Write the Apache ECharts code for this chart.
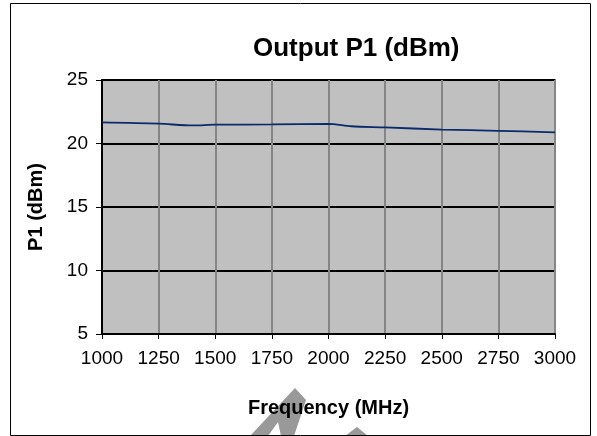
<!DOCTYPE html>
<html>
<head>
<meta charset="utf-8">
<script src="https://cdn.jsdelivr.net/npm/echarts@6/dist/echarts.min.js"></script>
<style>html,body{margin:0;padding:0;background:#fff}#c{width:597px;height:436px}</style>
</head>
<body>
<div id="c"></div>
<script>
var frequencies = [1000, 1250, 1400, 1500, 1750, 2000, 2100, 2250, 2500, 2750, 3000];
var p1Values = [21.66, 21.56, 21.42, 21.48, 21.5, 21.54, 21.36, 21.27, 21.1, 21.0, 20.88];
var xTicks = {min: 1000, max: 3000, interval: 250};
var yTicks = {min: 5, max: 25, interval: 5};
var titleText = 'Output P1 (dBm)';
var xName = 'Frequency (MHz)';
var yName = 'P1 (dBm)';

var chart = echarts.init(document.getElementById('c'));
var font = '"Liberation Sans", Arial, sans-serif';
chart.setOption({
  animation: false,
  title: {
    text: titleText, left: 248, top: 31,
    textStyle: {fontFamily: font, fontSize: 26, fontWeight: 'bold', color: '#000'}
  },
  grid: {
    left: 102, right: 42, top: 80, bottom: 102,
    show: true, backgroundColor: '#C0C0C0', borderColor: '#808080', borderWidth: 2
  },
  xAxis: {
    type: 'value', min: xTicks.min, max: xTicks.max, interval: xTicks.interval,
    name: xName, nameLocation: 'middle', nameGap: 64,
    nameTextStyle: {fontFamily: font, fontSize: 20, fontWeight: 'bold', color: '#000'},
    axisLine: {show: true, lineStyle: {color: '#000', width: 2}},
    axisTick: {show: true, length: 5, lineStyle: {color: '#000', width: 1}},
    axisLabel: {fontFamily: font, fontSize: 19, color: '#000', margin: 15,
      formatter: function (v) { return String(v); }},
    splitLine: {show: true, lineStyle: {color: '#858585', width: 2}}
  },
  yAxis: {
    type: 'value', min: yTicks.min, max: yTicks.max, interval: yTicks.interval,
    name: yName, nameLocation: 'middle', nameGap: 56,
    nameTextStyle: {fontFamily: font, fontSize: 20, fontWeight: 'bold', color: '#000'},
    axisLine: {show: true, lineStyle: {color: '#000', width: 2}},
    axisTick: {show: true, length: 6, lineStyle: {color: '#000', width: 1}},
    axisLabel: {fontFamily: font, fontSize: 19, color: '#000', margin: 14},
    splitLine: {show: true, lineStyle: {color: '#000', width: 2}}
  },
  series: [{
    type: 'line', smooth: 0.3, showSymbol: false,
    data: frequencies.map(function (f, i) { return [f, p1Values[i]]; }),
    lineStyle: {color: '#0B2A6B', width: 1.8}
  }],
  graphic: [
    {type: 'rect', shape: {x: 10.5, y: 3.5, width: 580, height: 432},
     style: {fill: 'none', stroke: '#000', lineWidth: 1}, silent: true, z: 100},
    {type: 'polygon', shape: {points: [[295, 388], [306, 400], [294, 436], [281, 436], [278, 422], [268, 436], [250, 436]]},
     style: {fill: '#999999'}, silent: true, z: -1},
    {type: 'polygon', shape: {points: [[357, 427], [368, 436], [345, 436]]},
     style: {fill: '#999999'}, silent: true, z: -1}
  ]
});
</script>
</body>
</html>
